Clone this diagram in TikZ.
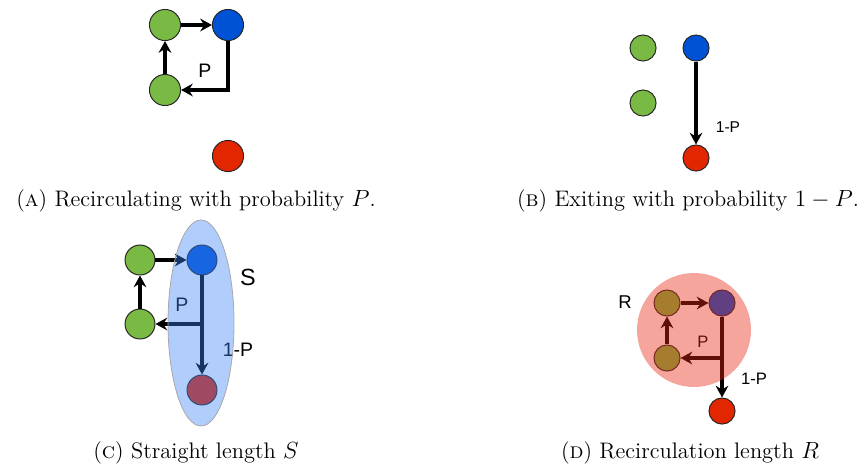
\documentclass[tikz,border=0pt]{standalone}
\usepackage{fontspec}
\newfontfamily\lblfont{Liberation Sans}
\usepackage{tikz}
\usetikzlibrary{arrows.meta,positioning}

\definecolor{nodegreen}{RGB}{120,186,67}
\definecolor{nodeblue}{RGB}{0,82,212}
\definecolor{nodered}{RGB}{226,38,0}
\definecolor{shadeblue}{RGB}{60,130,245}
\definecolor{shadered}{RGB}{230,40,20}

\begin{document}
\begin{tikzpicture}[x=0.018cm, y=-0.018cm,
  ball/.style={circle, draw=black!85, line width=0.5pt, inner sep=0pt, minimum size=#1},
  ball/.default=0.56cm,
  flow/.style={line width=1.6pt, -{Stealth[length=6pt, width=6.5pt, inset=2pt]}},
  lbl/.style={font=\lblfont\fontsize{#1}{#1}\selectfont},
  lbl/.default=9,
  subcap/.style={font=\fontsize{11.5}{13}\selectfont}]
  \useasboundingbox (0,0) rectangle (868,468);

  % (a) recirculating
  \node[ball, fill=nodegreen] (a-g1) at (165,25) {};
  \node[ball, fill=nodeblue] (a-blue) at (228,25) {};
  \node[ball, fill=nodegreen] (a-g2) at (165,90) {};
  \node[ball, fill=nodered] (a-red) at (228,156) {};
  \draw[flow, line width=1.8pt] (a-g1) -- (a-blue);
  \draw[flow, line width=1.8pt] (a-g2) -- (a-g1);
  \draw[flow, line width=1.8pt] (a-blue) |- (a-g2);
  \node[lbl=10] (a-p) at (205,71) {P};
  \node[subcap] (a-cap) at (196,201) {(\textsc{a}) Recirculating with probability $P$.};

  % (b) exiting
  \node[ball=0.47cm, fill=nodegreen] (b-g1) at (643,48) {};
  \node[ball=0.47cm, fill=nodeblue] (b-blue) at (696,48) {};
  \node[ball=0.47cm, fill=nodegreen] (b-g2) at (643,103) {};
  \node[ball=0.47cm, fill=nodered] (b-red) at (696,158) {};
  \draw[flow] (b-blue) -- (b-red);
  \node[lbl=8] (b-p) at (728,127) {1-P};
  \node[subcap] (b-cap) at (688,201) {(\textsc{b}) Exiting with probability $1-P$.};

  % (c) straight length
  \node[ball=0.54cm, fill=nodegreen] (c-g1) at (140,260) {};
  \node[ball=0.54cm, fill=nodeblue] (c-blue) at (202,260) {};
  \node[ball=0.54cm, fill=nodegreen] (c-g2) at (140,324) {};
  \node[ball=0.54cm, fill=nodered] (c-red) at (202,390) {};
  \coordinate (c-fork) at (202,324);
  \draw[flow] (c-g1) -- (c-blue);
  \draw[flow] (c-g2) -- (c-g1);
  \draw[flow] (c-blue) -- (c-red);
  \draw[flow] (c-fork) -- (c-g2);
  \node[lbl=10] (c-p) at (182,305) {P};
  \node[lbl=10] (c-q) at (238,350) {1-P};
  \fill[shadeblue, fill opacity=0.4] (201,323) ellipse [x radius=33, y radius=103];
  \draw[gray!70, line width=0.4pt] (201,323) ellipse [x radius=33, y radius=103];
  \node[lbl=12] (c-s) at (248,277) {S};
  \node[subcap] (c-cap) at (196,453) {(\textsc{c}) Straight length $S$};

  % (d) recirculation length
  \node[ball=0.47cm, fill=nodegreen] (d-g1) at (667,303) {};
  \node[ball=0.47cm, fill=nodeblue] (d-blue) at (722,303) {};
  \node[ball=0.47cm, fill=nodegreen] (d-g2) at (667,358) {};
  \node[ball=0.47cm, fill=nodered] (d-red) at (722,411) {};
  \coordinate (d-fork) at (722,358);
  \draw[flow] (d-g1) -- (d-blue);
  \draw[flow] (d-g2) -- (d-g1);
  \draw[flow] (d-blue) -- (d-red);
  \draw[flow] (d-fork) -- (d-g2);
  \node[lbl=8.5] (d-p) at (703,342) {P};
  \fill[shadered, fill opacity=0.42] (694,330) circle [radius=57];
  \node[lbl=8.5] (d-q) at (754,379) {1-P};
  \node[lbl=9.5] (d-r) at (625,302) {R};
  \node[subcap] (d-cap) at (690,453) {(\textsc{d}) Recirculation length $R$};
\end{tikzpicture}
\end{document}
